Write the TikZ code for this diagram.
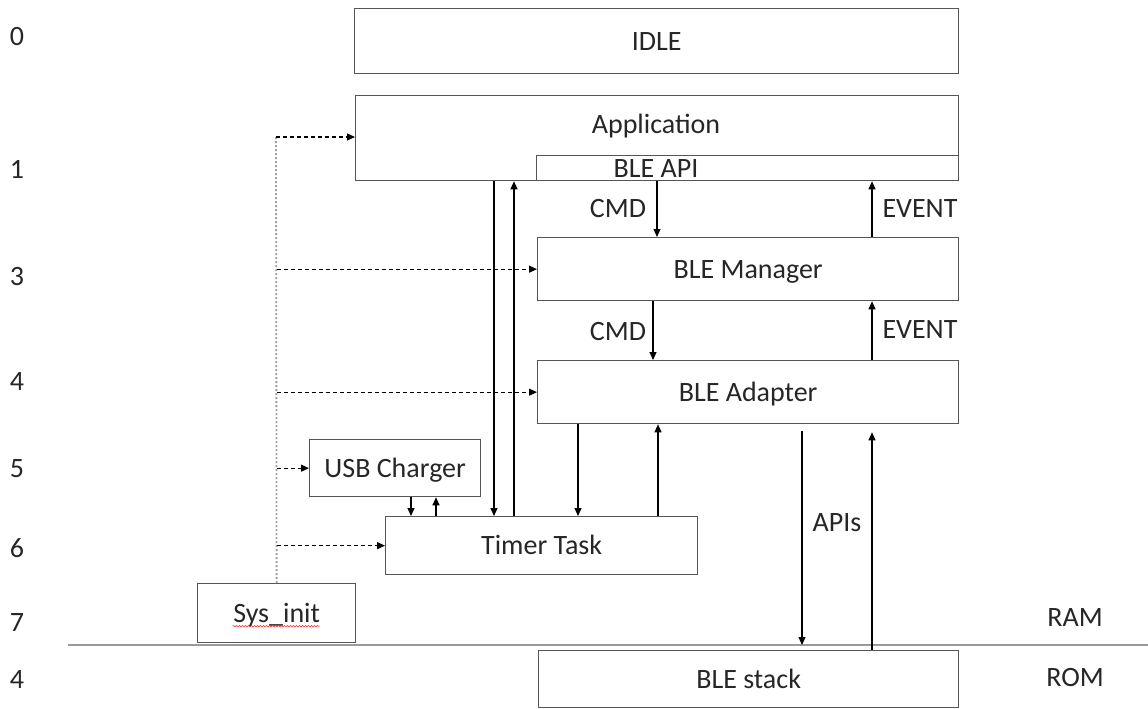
\documentclass[tikz,border=0pt]{standalone}
\usepackage{fontspec}
\setmainfont{Carlito}
\usetikzlibrary{arrows.meta,decorations.pathmorphing}
\definecolor{txt}{HTML}{262626}
\definecolor{boxline}{HTML}{555555}
\definecolor{sepgray}{HTML}{9A9A9A}
\definecolor{dotgray}{HTML}{A0A0A0}
\begin{document}
\begin{tikzpicture}[x=1pt,y=-1pt,
  font=\fontsize{28}{32}\selectfont,
  box/.style={draw=boxline,line width=1.3pt,inner sep=0pt,anchor=north west,
    text=txt,text height=18pt,text depth=0pt},
  lbl/.style={text=txt,inner sep=0pt,text height=18pt,text depth=0pt},
  arr/.style={draw=black,line width=1.1pt,-{Triangle[length=8pt,width=7pt]}},
  dsh/.style={arr,dash pattern=on 4pt off 3pt},
  busline/.style={draw=dotgray,line width=1.8pt,dash pattern=on 2pt off 2pt},
  sepline/.style={draw=sepgray,line width=1.5pt}]
\useasboundingbox (0,0) rectangle (1148,709);

% level numbers
\node[lbl] (n0) at (17,37) {0};
\node[lbl] (n1) at (17,169) {1};
\node[lbl] (n3) at (17,276) {3};
\node[lbl] (n4) at (17,381) {4};
\node[lbl] (n5) at (17,468) {5};
\node[lbl] (n6) at (17,548) {6};
\node[lbl] (n7) at (17,622) {7};
\node[lbl] (n4b) at (17,679) {4};

% boxes
\node[box,minimum width=604,minimum height=65] (idle) at (354,8) {IDLE};
\node[box,minimum width=603,minimum height=85] (app) at (355,95) {};
\node[lbl] (apptext) at (656,124) {Application};
\node[box,minimum width=422,minimum height=25] (bleapi) at (536,155) {};
\node[lbl] (apitext) at (656,168) {BLE API};
\node[box,minimum width=421,minimum height=63] (mgr) at (537,237) {BLE Manager};
\node[box,minimum width=421,minimum height=63] (adp) at (537,360) {BLE Adapter};
\node[box,minimum width=171,minimum height=57] (usb) at (309,439) {USB Charger};
\node[box,minimum width=312,minimum height=58] (timer) at (385,516) {Timer Task};
\node[box,minimum width=158,minimum height=59] (sys) at (197,583) {Sys\_init};
\node[box,minimum width=420,minimum height=57] (stack) at (538,650) {BLE stack};

% spell-check squiggle
\draw[red!75,line width=0.7pt,decorate,decoration={snake,amplitude=0.7pt,segment length=3pt}]
  ([shift={(-44,13)}]sys.center) -- ([shift={(43,13)}]sys.center);

% RAM / ROM separator
\coordinate (sepL) at (68,645);
\coordinate (sepR) at (1148,645);
\draw[sepline] (sepL) -- (sepR);
\node[lbl] (ram) at (1075,617) {RAM};
\node[lbl] (rom) at (1075,677) {ROM};

% init bus
\coordinate (bus) at (276,137);
\draw[busline] (sys.north) -- (bus);
\draw[dsh] (bus) -- (bus -| app.west);
\draw[dsh] (sys.north |- mgr.west) -- (mgr.west);
\draw[dsh] (sys.north |- adp.west) -- (adp.west);
\draw[dsh] (sys.north |- usb.west) -- (usb.west);
\draw[dsh] (sys.north |- timer.west) -- (timer.west);

% application <-> timer
\draw[arr] (app.south -| 494,0) -- (timer.north -| 494,0);
\draw[arr] (timer.north -| 514,0) -- (app.south -| 514,0);

% application <-> manager
\draw[arr] (app.south -| 657,0) -- (mgr.north -| 657,0);
\draw[arr] (mgr.north -| 872,0) -- (app.south -| 872,0);
\node[lbl] (cmd1) at (618,208) {CMD};
\node[lbl] (ev1) at (920,208) {EVENT};

% manager <-> adapter
\draw[arr] (mgr.south -| 653,0) -- (adp.north -| 653,0);
\draw[arr] (adp.north -| 872,0) -- (mgr.south -| 872,0);
\node[lbl] (cmd2) at (618,331) {CMD};
\node[lbl] (ev2) at (920,329) {EVENT};

% adapter <-> timer
\draw[arr] (adp.south -| 578,0) -- (timer.north -| 578,0);
\draw[arr] (timer.north -| 658,0) -- (adp.south -| 658,0);

% usb <-> timer
\draw[arr] (usb.south -| 411,0) -- (timer.north -| 411,0);
\draw[arr] (timer.north -| 436,0) -- (usb.south -| 436,0);

% adapter <-> stack
\draw[arr,shorten <=7pt] (adp.south -| 802,0) -- (sepL -| 802,0);
\draw[arr,shorten >=8pt] (stack.north -| 872,0) -- (adp.south -| 872,0);
\node[lbl] (apis) at (837,522) {APIs};
\end{tikzpicture}
\end{document}
